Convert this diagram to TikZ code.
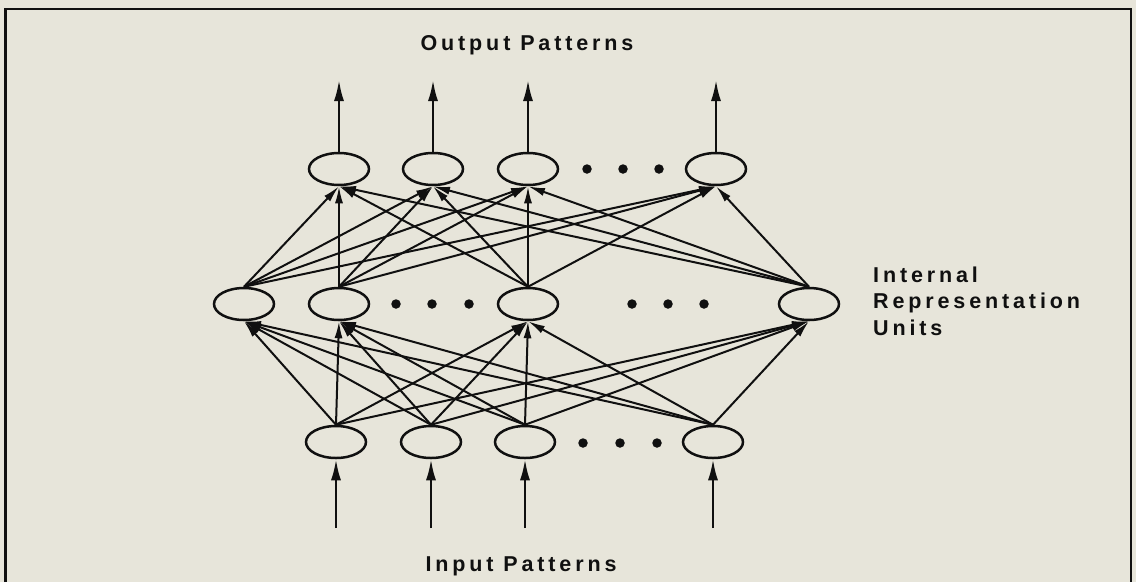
\documentclass[tikz,border=0pt]{standalone}
\usepackage{fontspec}
\setmainfont{Liberation Sans}
\newfontfamily\labelfont[LetterSpace=18]{Liberation Sans}
\usetikzlibrary{shapes.geometric,arrows.meta}
\definecolor{bg}{RGB}{231,229,218}
\definecolor{ink}{RGB}{16,16,16}
\begin{document}
\begin{tikzpicture}[x=1pt,y=-1pt,
  unit/.style={draw=ink, line width=2.5pt, ellipse, minimum width=60pt, minimum height=32pt, inner sep=0pt},
  link/.style={draw=ink, line width=2pt, -{Latex[length=17pt,width=8pt]}},
  io/.style={draw=ink, line width=2.3pt, -{Latex[length=21pt,width=10pt]}},
  dotnode/.style={circle, fill=ink, minimum size=9.5pt, inner sep=0pt},
  lab/.style={font=\fontsize{21.5}{25}\labelfont\bfseries, text=ink, inner sep=0pt}]
\useasboundingbox (0,0) rectangle (1136,582);
\fill[bg] (0,0) rectangle (1136,582);
\draw[ink, line width=2.5pt] (5.5,582) -- (5.5,9) -- (1131,9) -- (1131,582);
% output layer
\node[unit] (o1) at (339,169) {};
\node[unit] (o2) at (433,169) {};
\node[unit] (o3) at (528,169) {};
\node[unit] (o4) at (716,169) {};
\node[dotnode] (od1) at (587,169) {};
\node[dotnode] (od2) at (623,169) {};
\node[dotnode] (od3) at (659,169) {};
% hidden layer
\node[unit] (h1) at (244,304) {};
\node[unit] (h2) at (339,304) {};
\node[unit] (h3) at (528,304) {};
\node[unit] (h4) at (809,304) {};
\node[dotnode] (hd1) at (396,304) {};
\node[dotnode] (hd2) at (432,304) {};
\node[dotnode] (hd3) at (469,304) {};
\node[dotnode] (hd4) at (632,304) {};
\node[dotnode] (hd5) at (668,304) {};
\node[dotnode] (hd6) at (704,304) {};
% input layer
\node[unit] (i1) at (336,442) {};
\node[unit] (i2) at (431,442) {};
\node[unit] (i3) at (525,442) {};
\node[unit] (i4) at (713,442) {};
\node[dotnode] (id1) at (583,443) {};
\node[dotnode] (id2) at (620,443) {};
\node[dotnode] (id3) at (657,443) {};
% free ends
\foreach \k/\x in {1/339,2/433,3/528,4/716} \coordinate (ot\k) at (\x,80);
\foreach \k/\x in {1/336,2/431,3/525,4/713} \coordinate (ib\k) at (\x,528);
% connections
\foreach \k in {1,...,4} {
  \draw[io] (o\k.north) -- (ot\k);
  \draw[io] (ib\k) -- (i\k.south);
}
\foreach \s in {1,...,4} \foreach \t in {1,...,4} {
  \draw[link] (h\s.north) -- (o\t.south);
  \draw[link] (i\s.north) -- (h\t.south);
}
% labels
\node[lab] (outlab) at (527,45) {Output Patterns};
\node[lab] (inlab) at (521,566) {Input Patterns};
\node[lab, anchor=base west] (l1) at (873,282) {Internal};
\node[lab, anchor=base west] (l2) at (873,308.5) {Representation};
\node[lab, anchor=base west] (l3) at (873,335) {Units};
\end{tikzpicture}
\end{document}
